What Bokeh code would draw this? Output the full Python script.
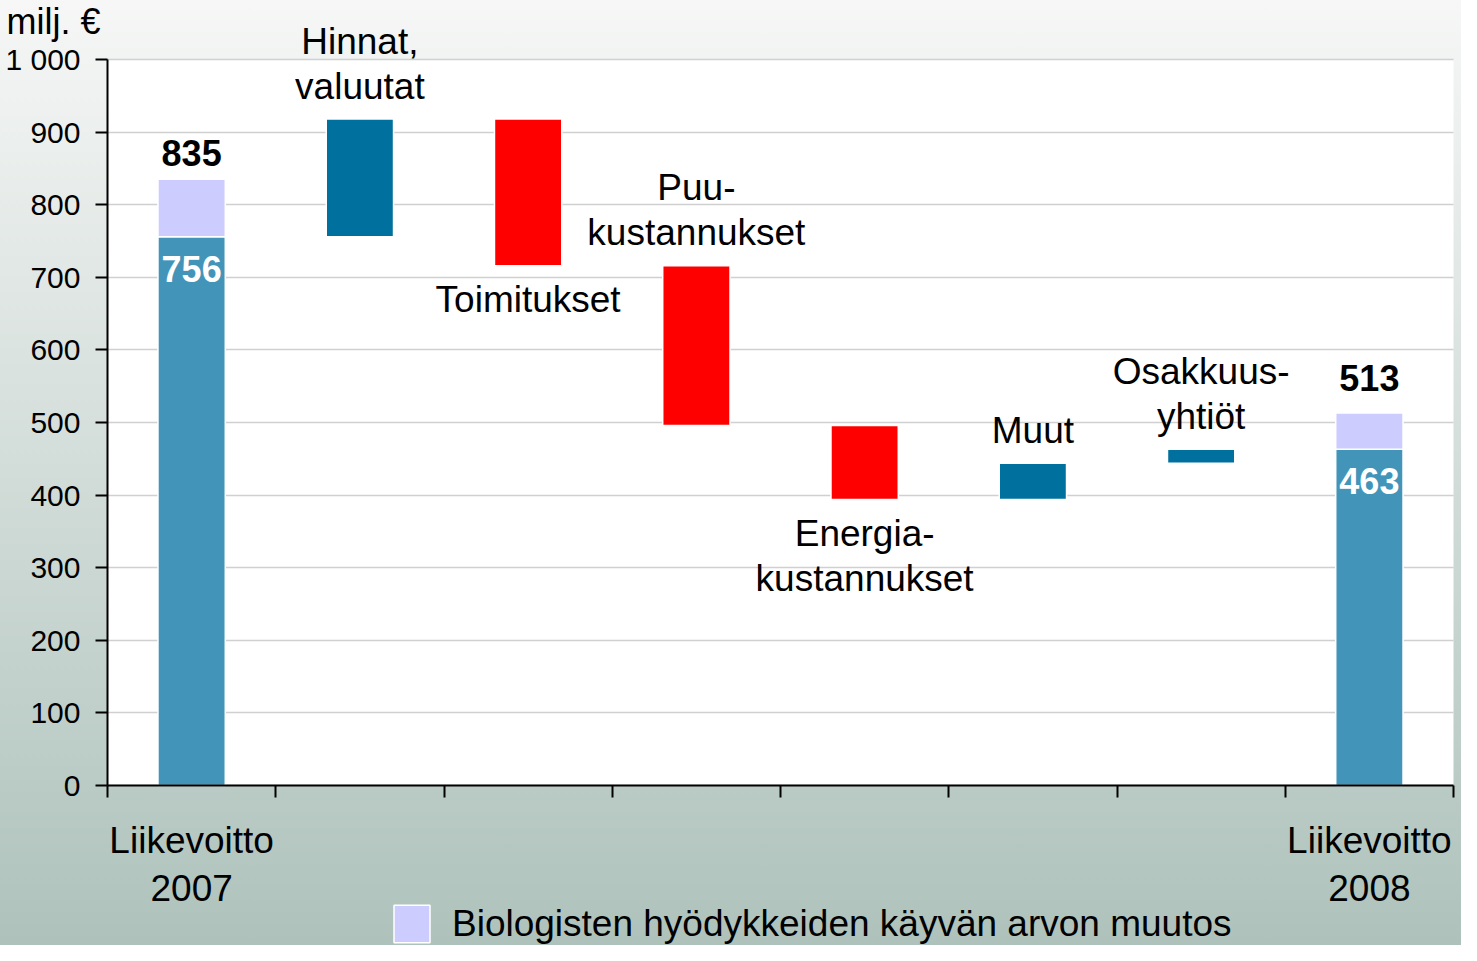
from bokeh.plotting import figure
from bokeh.models import Range1d, FixedTicker, Label, ColumnDataSource, LinearAxis, Grid
from bokeh.embed import file_html
from bokeh.resources import INLINE

# ---------------- data ----------------
start_operating = 756          # Liikevoitto 2007 (excl. biological assets)
start_biological = 79          # biological asset change 2007 (total 835)
step_labels = [["Hinnat,", "valuutat"], ["Toimitukset"], ["Puu-", "kustannukset"],
               ["Energia-", "kustannukset"], ["Muut"], ["Osakkuus-", "yhtiöt"]]
step_values = [162, -202, -220, -102, 50, 19]
step_label_side = ["above", "below", "above", "below", "above", "above"]
end_operating = 463            # Liikevoitto 2008 (excl. biological assets)
end_biological = 50            # biological asset change 2008 (total 513)
end_labels = [["Liikevoitto", "2007"], ["Liikevoitto", "2008"]]
y_ticks = [0, 100, 200, 300, 400, 500, 600, 700, 800, 900, 1000]
y_tick_text = {1000: "1 000"}
y_unit = "milj. €"
legend_text = "Biologisten hyödykkeiden käyvän arvon muutos"

# ---------------- styling ----------------
FONT = "Liberation Sans"
C_TOTAL = "#4295b9"
C_BIO = "#ccccff"
C_UP = "#00709e"
C_DOWN = "#ff0000"

W, H = 1461, 945
# plot-area box in canvas pixels
PL, PR, PT, PB = 107, 1453, 59, 785
n_cat = 2 + len(step_values)
Y_MAX = 1000
ux = (PR - PL) / n_cat
uy = (PB - PT) / Y_MAX


def dy(px):
    return px / uy


def dx(px):
    return px / ux


p = figure(width=W, height=H, output_backend="svg", toolbar_location=None,
           x_axis_location=None, y_axis_location=None,
           x_range=Range1d(-dx(PL), n_cat + dx(W - PR)),
           y_range=Range1d(-dy(H - PB), Y_MAX + dy(PT)),
           min_border=0, min_border_left=0, min_border_right=0,
           min_border_top=0, min_border_bottom=0)
p.background_fill_alpha = 0
p.border_fill_color = None
p.outline_line_color = None
p.styles = {"background": "linear-gradient(to bottom, #f6f7f6 0%, #aec2bb 100%)"}

for r in list(p.center):
    if isinstance(r, Grid):
        r.visible = False

# white plot area
p.quad(left=0, right=n_cat, bottom=0, top=Y_MAX, fill_color="white",
       line_color=None, level="image")

# horizontal grid
ygrid = Grid(dimension=1, ticker=FixedTicker(ticks=y_ticks),
             grid_line_color="#d0d0d0", grid_line_width=1.5)
grid_ok = True
try:
    ygrid.cross_bounds = (0, n_cat)
except Exception:
    grid_ok = False
if grid_ok:
    p.add_layout(ygrid)
else:
    p.segment(x0=[0] * len(y_ticks), x1=[n_cat] * len(y_ticks), y0=y_ticks, y1=y_ticks,
              line_color="#d0d0d0", line_width=1.5, level="underlay")

# axes at fixed data locations
yaxis = LinearAxis(fixed_location=0, bounds=(0, Y_MAX), ticker=FixedTicker(ticks=y_ticks))
yaxis.major_label_overrides = y_tick_text
yaxis.major_label_text_font = FONT
yaxis.major_label_text_font_size = "30px"
yaxis.major_label_text_color = "black"
yaxis.major_label_standoff = 15
yaxis.axis_line_color = "black"
yaxis.axis_line_width = 2
yaxis.major_tick_out = 12
yaxis.major_tick_in = 0
yaxis.major_tick_line_width = 2
yaxis.major_tick_line_color = "black"
yaxis.minor_tick_line_color = None
p.add_layout(yaxis, "left")

xaxis = LinearAxis(fixed_location=0, bounds=(0, n_cat),
                   ticker=FixedTicker(ticks=list(range(n_cat + 1))))
xaxis.major_label_text_color = None
xaxis.axis_line_color = "black"
xaxis.axis_line_width = 2
xaxis.major_tick_out = 12
xaxis.major_tick_in = 0
xaxis.major_tick_line_width = 2
xaxis.major_tick_line_color = "black"
xaxis.minor_tick_line_color = None
p.add_layout(xaxis, "below")

# ---------------- bars ----------------
BAR_W = 0.4
first_x = 0.5
last_x = n_cat - 0.5

p.vbar(x=[first_x, last_x], bottom=[0, 0], top=[start_operating, end_operating],
       width=BAR_W, fill_color=C_TOTAL, line_color="white", line_width=1.5)
p.vbar(x=[first_x, last_x], bottom=[start_operating, end_operating],
       top=[start_operating + start_biological, end_operating + end_biological],
       width=BAR_W, fill_color=C_BIO, line_color="white", line_width=1.5,
       legend_label=legend_text)

xs, bottoms, tops, colors = [], [], [], []
cum = start_operating
for i, v in enumerate(step_values):
    xs.append(1.5 + i)
    bottoms.append(min(cum, cum + v))
    tops.append(max(cum, cum + v))
    colors.append(C_UP if v > 0 else C_DOWN)
    cum += v
src = ColumnDataSource(dict(x=xs, bottom=bottoms, top=tops, color=colors))
p.vbar(x="x", bottom="bottom", top="top", width=BAR_W, fill_color="color",
       line_color="white", line_width=1.5, source=src)


# ---------------- labels ----------------
def add_label(x, y, text, size="37px", bold=False, color="black", align="center"):
    p.add_layout(Label(x=x, y=y, text=text, text_font=FONT, text_font_size=size,
                       text_font_style="bold" if bold else "normal",
                       text_color=color, text_align=align, text_baseline="middle"))


LINE = 45
for i, lines in enumerate(step_labels):
    x = xs[i]
    if step_label_side[i] == "above":
        base = tops[i] + dy(33)
        for j, t in enumerate(reversed(lines)):
            add_label(x, base + dy(LINE * j), t)
    else:
        base = bottoms[i] - dy(34)
        for j, t in enumerate(lines):
            add_label(x, base - dy(LINE * j), t)

# totals
add_label(first_x, start_operating + start_biological + dy(26),
          str(start_operating + start_biological), size="36px", bold=True)
add_label(first_x, start_operating - dy(32), str(start_operating), size="36px",
          bold=True, color="white")
add_label(last_x, end_operating + end_biological + dy(35),
          str(end_operating + end_biological), size="36px", bold=True)
add_label(last_x, end_operating - dy(32), str(end_operating), size="36px",
          bold=True, color="white")

# category labels below axis
for x, lines in zip([first_x, last_x], end_labels):
    for j, t in enumerate(lines):
        add_label(x, -dy(55 + 47 * j), t)

# unit
add_label(-dx(101), Y_MAX + dy(38), y_unit, size="36px", align="left")

# legend (Bokeh insets area glyphs by 10% on each side)
lg = p.legend[0]
lg.location = (389, -2)
lg.glyph_width = 45
lg.glyph_height = 47
lg.label_standoff = 18
lg.padding = 0
lg.margin = 0
lg.spacing = 0
lg.border_line_color = None
lg.background_fill_alpha = 0
lg.label_text_font = FONT
lg.label_text_font_size = "37px"
lg.label_text_color = "black"

open("out.html", "w").write(file_html(p, INLINE))
